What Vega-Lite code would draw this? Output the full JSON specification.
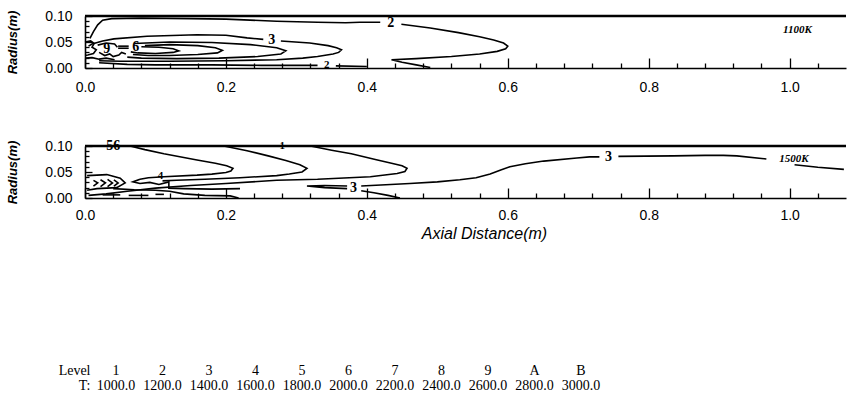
{
  "$schema": "https://vega.github.io/schema/vega-lite/v6.json",
  "padding": {"left": 6, "top": 9, "right": 0, "bottom": 0},
  "background": "white",
  "spacing": 40,
  "config": {"view": {"stroke": null}, "font": "Liberation Sans"},
  "datasets": {
    "top": [
      {"k":"w","c":"w","i":0,"x":0,"y":0.1},{"k":"w","c":"w","i":1,"x":1.08,"y":0.1},
      {"k":"c","c":"t2a","i":0,"x":0.007,"y":0.057},{"k":"c","c":"t2a","i":1,"x":0.012,"y":0.07},{"k":"c","c":"t2a","i":2,"x":0.018,"y":0.083},{"k":"c","c":"t2a","i":3,"x":0.025,"y":0.092},{"k":"c","c":"t2a","i":4,"x":0.038,"y":0.095},{"k":"c","c":"t2a","i":5,"x":0.08,"y":0.096},{"k":"c","c":"t2a","i":6,"x":0.15,"y":0.095},{"k":"c","c":"t2a","i":7,"x":0.2,"y":0.094},{"k":"c","c":"t2a","i":8,"x":0.272,"y":0.09},{"k":"c","c":"t2a","i":9,"x":0.33,"y":0.088},{"k":"c","c":"t2a","i":10,"x":0.37,"y":0.087},{"k":"c","c":"t2a","i":11,"x":0.39,"y":0.088},{"k":"c","c":"t2a","i":12,"x":0.419,"y":0.088},
      {"k":"c","c":"t2b","i":0,"x":0.449,"y":0.084},{"k":"c","c":"t2b","i":1,"x":0.49,"y":0.077},{"k":"c","c":"t2b","i":2,"x":0.53,"y":0.068},{"k":"c","c":"t2b","i":3,"x":0.56,"y":0.06},{"k":"c","c":"t2b","i":4,"x":0.58,"y":0.054},{"k":"c","c":"t2b","i":5,"x":0.594,"y":0.048},{"k":"c","c":"t2b","i":6,"x":0.6,"y":0.042},{"k":"c","c":"t2b","i":7,"x":0.597,"y":0.037},{"k":"c","c":"t2b","i":8,"x":0.585,"y":0.032},{"k":"c","c":"t2b","i":9,"x":0.56,"y":0.027},{"k":"c","c":"t2b","i":10,"x":0.52,"y":0.022},{"k":"c","c":"t2b","i":11,"x":0.47,"y":0.018},{"k":"c","c":"t2b","i":12,"x":0.435,"y":0.016},{"k":"c","c":"t2b","i":13,"x":0.45,"y":0.011},{"k":"c","c":"t2b","i":14,"x":0.47,"y":0.006},{"k":"c","c":"t2b","i":15,"x":0.49,"y":0.001},
      {"k":"c","c":"t3a","i":0,"x":0.005,"y":0.042},{"k":"c","c":"t3a","i":1,"x":0.01,"y":0.046},{"k":"c","c":"t3a","i":2,"x":0.025,"y":0.052},{"k":"c","c":"t3a","i":3,"x":0.041,"y":0.056},{"k":"c","c":"t3a","i":4,"x":0.088,"y":0.061},{"k":"c","c":"t3a","i":5,"x":0.159,"y":0.064},{"k":"c","c":"t3a","i":6,"x":0.2,"y":0.063},{"k":"c","c":"t3a","i":7,"x":0.23,"y":0.058},{"k":"c","c":"t3a","i":8,"x":0.253,"y":0.055},
      {"k":"c","c":"t3b","i":0,"x":0.278,"y":0.052},{"k":"c","c":"t3b","i":1,"x":0.319,"y":0.048},{"k":"c","c":"t3b","i":2,"x":0.345,"y":0.043},{"k":"c","c":"t3b","i":3,"x":0.357,"y":0.039},{"k":"c","c":"t3b","i":4,"x":0.364,"y":0.035},{"k":"c","c":"t3b","i":5,"x":0.36,"y":0.03},{"k":"c","c":"t3b","i":6,"x":0.352,"y":0.027},{"k":"c","c":"t3b","i":7,"x":0.33,"y":0.022},{"k":"c","c":"t3b","i":8,"x":0.309,"y":0.019},{"k":"c","c":"t3b","i":9,"x":0.272,"y":0.016},{"k":"c","c":"t3b","i":10,"x":0.2,"y":0.014},{"k":"c","c":"t3b","i":11,"x":0.12,"y":0.013},{"k":"c","c":"t3b","i":12,"x":0.05,"y":0.013},{"k":"c","c":"t3b","i":13,"x":0.02,"y":0.014},
      {"k":"c","c":"t4","i":0,"x":0.07,"y":0.047},{"k":"c","c":"t4","i":1,"x":0.12,"y":0.05},{"k":"c","c":"t4","i":2,"x":0.18,"y":0.049},{"k":"c","c":"t4","i":3,"x":0.235,"y":0.045},{"k":"c","c":"t4","i":4,"x":0.272,"y":0.039},{"k":"c","c":"t4","i":5,"x":0.285,"y":0.033},{"k":"c","c":"t4","i":6,"x":0.278,"y":0.027},{"k":"c","c":"t4","i":7,"x":0.245,"y":0.022},{"k":"c","c":"t4","i":8,"x":0.19,"y":0.019},{"k":"c","c":"t4","i":9,"x":0.13,"y":0.018},{"k":"c","c":"t4","i":10,"x":0.08,"y":0.019},{"k":"c","c":"t4","i":11,"x":0.06,"y":0.021},
      {"k":"c","c":"t5","i":0,"x":0.085,"y":0.043},{"k":"c","c":"t5","i":1,"x":0.12,"y":0.045},{"k":"c","c":"t5","i":2,"x":0.16,"y":0.043},{"k":"c","c":"t5","i":3,"x":0.185,"y":0.039},{"k":"c","c":"t5","i":4,"x":0.195,"y":0.034},{"k":"c","c":"t5","i":5,"x":0.188,"y":0.029},{"k":"c","c":"t5","i":6,"x":0.16,"y":0.026},{"k":"c","c":"t5","i":7,"x":0.12,"y":0.024},{"k":"c","c":"t5","i":8,"x":0.09,"y":0.024},{"k":"c","c":"t5","i":9,"x":0.068,"y":0.026},
      {"k":"c","c":"t6","i":0,"x":0.08,"y":0.041},{"k":"c","c":"t6","i":1,"x":0.105,"y":0.04},{"k":"c","c":"t6","i":2,"x":0.125,"y":0.037},{"k":"c","c":"t6","i":3,"x":0.133,"y":0.033},{"k":"c","c":"t6","i":4,"x":0.125,"y":0.03},{"k":"c","c":"t6","i":5,"x":0.1,"y":0.028},{"k":"c","c":"t6","i":6,"x":0.075,"y":0.029},{"k":"c","c":"t6","i":7,"x":0.065,"y":0.031},
      {"k":"c","c":"t7a","i":0,"x":0.047,"y":0.042},{"k":"c","c":"t7a","i":1,"x":0.062,"y":0.042},
      {"k":"c","c":"t7b","i":0,"x":0.047,"y":0.038},{"k":"c","c":"t7b","i":1,"x":0.062,"y":0.038},
      {"k":"c","c":"tw1","i":0,"x":0.0,"y":0.05},{"k":"c","c":"tw1","i":1,"x":0.008,"y":0.052},{"k":"c","c":"tw1","i":2,"x":0.013,"y":0.047},{"k":"c","c":"tw1","i":3,"x":0.01,"y":0.04},{"k":"c","c":"tw1","i":4,"x":0.016,"y":0.035},{"k":"c","c":"tw1","i":5,"x":0.012,"y":0.028},{"k":"c","c":"tw1","i":6,"x":0.004,"y":0.025},{"k":"c","c":"tw1","i":7,"x":0.0,"y":0.024},
      {"k":"c","c":"tw2","i":0,"x":0.018,"y":0.044},{"k":"c","c":"tw2","i":1,"x":0.03,"y":0.048},{"k":"c","c":"tw2","i":2,"x":0.042,"y":0.046},{"k":"c","c":"tw2","i":3,"x":0.046,"y":0.04},
      {"k":"c","c":"tw3","i":0,"x":0.02,"y":0.03},{"k":"c","c":"tw3","i":1,"x":0.028,"y":0.024},{"k":"c","c":"tw3","i":2,"x":0.035,"y":0.027},{"k":"c","c":"tw3","i":3,"x":0.04,"y":0.022},{"k":"c","c":"tw3","i":4,"x":0.048,"y":0.025},{"k":"c","c":"tw3","i":5,"x":0.052,"y":0.03},{"k":"c","c":"tw3","i":6,"x":0.058,"y":0.027},
      {"k":"c","c":"tw4","i":0,"x":0.0,"y":0.019},{"k":"c","c":"tw4","i":1,"x":0.01,"y":0.02},{"k":"c","c":"tw4","i":2,"x":0.02,"y":0.017},{"k":"c","c":"tw4","i":3,"x":0.03,"y":0.019},{"k":"c","c":"tw4","i":4,"x":0.042,"y":0.016},
      {"k":"c","c":"tb1","i":0,"x":0.02,"y":0.01},{"k":"c","c":"tb1","i":1,"x":0.06,"y":0.007},{"k":"c","c":"tb1","i":2,"x":0.1,"y":0.006},{"k":"c","c":"tb1","i":3,"x":0.18,"y":0.006},{"k":"c","c":"tb1","i":4,"x":0.25,"y":0.005},{"k":"c","c":"tb1","i":5,"x":0.33,"y":0.005},
      {"k":"c","c":"tb2","i":0,"x":0.356,"y":0.004},{"k":"c","c":"tb2","i":1,"x":0.4,"y":0.003},
      {"k":"lab","x":0.434,"y":0.086,"t":"2"},{"k":"lab","x":0.265,"y":0.054,"t":"3"},{"k":"lab","x":0.072,"y":0.04,"t":"6"},{"k":"lab","x":0.031,"y":0.037,"t":"9"},{"k":"labs","x":0.343,"y":0.005,"t":"2"},
      {"k":"temp","x":1.011,"y":0.074,"t":"1100K"}
    ],
    "bot": [
      {"k":"w","c":"w","i":0,"x":0,"y":0.1},{"k":"w","c":"w","i":1,"x":1.08,"y":0.1},
      {"k":"c","c":"bC1","i":0,"x":0.064,"y":0.1},{"k":"c","c":"bC1","i":1,"x":0.085,"y":0.093},{"k":"c","c":"bC1","i":2,"x":0.112,"y":0.085},{"k":"c","c":"bC1","i":3,"x":0.159,"y":0.073},{"k":"c","c":"bC1","i":4,"x":0.185,"y":0.067},{"k":"c","c":"bC1","i":5,"x":0.201,"y":0.062},{"k":"c","c":"bC1","i":6,"x":0.21,"y":0.057},{"k":"c","c":"bC1","i":7,"x":0.207,"y":0.052},{"k":"c","c":"bC1","i":8,"x":0.2,"y":0.049},{"k":"c","c":"bC1","i":9,"x":0.18,"y":0.046},{"k":"c","c":"bC1","i":10,"x":0.159,"y":0.044},{"k":"c","c":"bC1","i":11,"x":0.112,"y":0.041},{"k":"c","c":"bC1","i":12,"x":0.09,"y":0.039},{"k":"c","c":"bC1","i":13,"x":0.078,"y":0.036},
      {"k":"c","c":"bC2","i":0,"x":0.197,"y":0.1},{"k":"c","c":"bC2","i":1,"x":0.23,"y":0.091},{"k":"c","c":"bC2","i":2,"x":0.26,"y":0.081},{"k":"c","c":"bC2","i":3,"x":0.285,"y":0.072},{"k":"c","c":"bC2","i":4,"x":0.305,"y":0.064},{"k":"c","c":"bC2","i":5,"x":0.315,"y":0.057},{"k":"c","c":"bC2","i":6,"x":0.308,"y":0.05},{"k":"c","c":"bC2","i":7,"x":0.29,"y":0.046},{"k":"c","c":"bC2","i":8,"x":0.272,"y":0.043},{"k":"c","c":"bC2","i":9,"x":0.22,"y":0.039},{"k":"c","c":"bC2","i":10,"x":0.17,"y":0.036},{"k":"c","c":"bC2","i":11,"x":0.13,"y":0.034},{"k":"c","c":"bC2","i":12,"x":0.11,"y":0.033},
      {"k":"c","c":"bC3","i":0,"x":0.32,"y":0.1},{"k":"c","c":"bC3","i":1,"x":0.35,"y":0.092},{"k":"c","c":"bC3","i":2,"x":0.378,"y":0.085},{"k":"c","c":"bC3","i":3,"x":0.412,"y":0.074},{"k":"c","c":"bC3","i":4,"x":0.435,"y":0.067},{"k":"c","c":"bC3","i":5,"x":0.45,"y":0.062},{"k":"c","c":"bC3","i":6,"x":0.457,"y":0.057},{"k":"c","c":"bC3","i":7,"x":0.454,"y":0.051},{"k":"c","c":"bC3","i":8,"x":0.443,"y":0.047},{"k":"c","c":"bC3","i":9,"x":0.405,"y":0.041},{"k":"c","c":"bC3","i":10,"x":0.33,"y":0.036},{"k":"c","c":"bC3","i":11,"x":0.272,"y":0.034},{"k":"c","c":"bC3","i":12,"x":0.2,"y":0.028},{"k":"c","c":"bC3","i":13,"x":0.15,"y":0.024},{"k":"c","c":"bC3","i":14,"x":0.1,"y":0.019},{"k":"c","c":"bC3","i":15,"x":0.06,"y":0.013},{"k":"c","c":"bC3","i":16,"x":0.03,"y":0.008},{"k":"c","c":"bC3","i":17,"x":0.005,"y":0.005},
      {"k":"c","c":"b3a","i":0,"x":0.447,"y":0.0},{"k":"c","c":"b3a","i":1,"x":0.43,"y":0.005},{"k":"c","c":"b3a","i":2,"x":0.41,"y":0.01},{"k":"c","c":"b3a","i":3,"x":0.392,"y":0.014},
      {"k":"c","c":"b3t","i":0,"x":0.372,"y":0.018},{"k":"c","c":"b3t","i":1,"x":0.34,"y":0.02},{"k":"c","c":"b3t","i":2,"x":0.315,"y":0.023},{"k":"c","c":"b3t","i":3,"x":0.34,"y":0.024},{"k":"c","c":"b3t","i":4,"x":0.372,"y":0.023},
      {"k":"c","c":"b3b","i":0,"x":0.392,"y":0.023},{"k":"c","c":"b3b","i":1,"x":0.42,"y":0.025},{"k":"c","c":"b3b","i":2,"x":0.461,"y":0.028},{"k":"c","c":"b3b","i":3,"x":0.5,"y":0.031},{"k":"c","c":"b3b","i":4,"x":0.532,"y":0.035},{"k":"c","c":"b3b","i":5,"x":0.555,"y":0.039},{"k":"c","c":"b3b","i":6,"x":0.575,"y":0.046},{"k":"c","c":"b3b","i":7,"x":0.59,"y":0.054},{"k":"c","c":"b3b","i":8,"x":0.603,"y":0.06},{"k":"c","c":"b3b","i":9,"x":0.625,"y":0.066},{"k":"c","c":"b3b","i":10,"x":0.651,"y":0.071},{"k":"c","c":"b3b","i":11,"x":0.698,"y":0.077},{"k":"c","c":"b3b","i":12,"x":0.716,"y":0.079},{"k":"c","c":"b3b","i":13,"x":0.73,"y":0.079},
      {"k":"c","c":"b3c","i":0,"x":0.757,"y":0.08},{"k":"c","c":"b3c","i":1,"x":0.835,"y":0.081},{"k":"c","c":"b3c","i":2,"x":0.88,"y":0.082},{"k":"c","c":"b3c","i":3,"x":0.906,"y":0.082},{"k":"c","c":"b3c","i":4,"x":0.925,"y":0.081},{"k":"c","c":"b3c","i":5,"x":0.967,"y":0.075},
      {"k":"c","c":"b3d","i":0,"x":1.007,"y":0.064},{"k":"c","c":"b3d","i":1,"x":1.04,"y":0.059},{"k":"c","c":"b3d","i":2,"x":1.077,"y":0.055},
      {"k":"c","c":"bB","i":0,"x":0.003,"y":0.043},{"k":"c","c":"bB","i":1,"x":0.031,"y":0.045},{"k":"c","c":"bB","i":2,"x":0.05,"y":0.038},{"k":"c","c":"bB","i":3,"x":0.057,"y":0.029},{"k":"c","c":"bB","i":4,"x":0.045,"y":0.02},{"k":"c","c":"bB","i":5,"x":0.017,"y":0.018},{"k":"c","c":"bB","i":6,"x":0.003,"y":0.015},
      {"k":"c","c":"ba1","i":0,"x":0.012,"y":0.034},{"k":"c","c":"ba1","i":1,"x":0.018,"y":0.029},{"k":"c","c":"ba1","i":2,"x":0.012,"y":0.023},
      {"k":"c","c":"ba2","i":0,"x":0.022,"y":0.035},{"k":"c","c":"ba2","i":1,"x":0.029,"y":0.029},{"k":"c","c":"ba2","i":2,"x":0.022,"y":0.022},
      {"k":"c","c":"ba3","i":0,"x":0.032,"y":0.036},{"k":"c","c":"ba3","i":1,"x":0.039,"y":0.029},{"k":"c","c":"ba3","i":2,"x":0.032,"y":0.022},
      {"k":"c","c":"ba4","i":0,"x":0.041,"y":0.035},{"k":"c","c":"ba4","i":1,"x":0.047,"y":0.029},{"k":"c","c":"ba4","i":2,"x":0.041,"y":0.023},
      {"k":"c","c":"bW","i":0,"x":0.078,"y":0.036},{"k":"c","c":"bW","i":1,"x":0.068,"y":0.031},{"k":"c","c":"bW","i":2,"x":0.078,"y":0.028},{"k":"c","c":"bW","i":3,"x":0.092,"y":0.03},{"k":"c","c":"bW","i":4,"x":0.105,"y":0.026},{"k":"c","c":"bW","i":5,"x":0.119,"y":0.031},{"k":"c","c":"bW","i":6,"x":0.119,"y":0.019},{"k":"c","c":"bW","i":7,"x":0.14,"y":0.018},{"k":"c","c":"bW","i":8,"x":0.18,"y":0.017},{"k":"c","c":"bW","i":9,"x":0.22,"y":0.018},
      {"k":"c","c":"bBot","i":0,"x":0.04,"y":0.018},{"k":"c","c":"bBot","i":1,"x":0.07,"y":0.016},{"k":"c","c":"bBot","i":2,"x":0.1,"y":0.015},{"k":"c","c":"bBot","i":3,"x":0.12,"y":0.013},{"k":"c","c":"bBot","i":4,"x":0.14,"y":0.008},{"k":"c","c":"bBot","i":5,"x":0.17,"y":0.005},{"k":"c","c":"bBot","i":6,"x":0.206,"y":0.004},{"k":"c","c":"bBot","i":7,"x":0.218,"y":0.0},
      {"k":"c","c":"bd1","i":0,"x":0.025,"y":0.006},{"k":"c","c":"bd1","i":1,"x":0.05,"y":0.006},
      {"k":"c","c":"bd2","i":0,"x":0.062,"y":0.005},{"k":"c","c":"bd2","i":1,"x":0.09,"y":0.005},
      {"k":"c","c":"bd3","i":0,"x":0.1,"y":0.007},{"k":"c","c":"bd3","i":1,"x":0.112,"y":0.007},
      {"k":"lab","x":0.04,"y":0.1,"t":"56"},{"k":"lab","x":0.381,"y":0.0185,"t":"3"},{"k":"lab","x":0.743,"y":0.079,"t":"3"},{"k":"labs","x":0.107,"y":0.043,"t":"4"},{"k":"labs","x":0.28,"y":0.1,"t":"1"},
      {"k":"temp","x":1.006,"y":0.075,"t":"1500K"}
    ],
    "legend": [
      {"col":0,"r":0,"t":"Level"},{"col":0,"r":1,"t":"T:"},
      {"col":1,"r":0,"t":"1"},{"col":1,"r":1,"t":"1000.0"},
      {"col":2,"r":0,"t":"2"},{"col":2,"r":1,"t":"1200.0"},
      {"col":3,"r":0,"t":"3"},{"col":3,"r":1,"t":"1400.0"},
      {"col":4,"r":0,"t":"4"},{"col":4,"r":1,"t":"1600.0"},
      {"col":5,"r":0,"t":"5"},{"col":5,"r":1,"t":"1800.0"},
      {"col":6,"r":0,"t":"6"},{"col":6,"r":1,"t":"2000.0"},
      {"col":7,"r":0,"t":"7"},{"col":7,"r":1,"t":"2200.0"},
      {"col":8,"r":0,"t":"8"},{"col":8,"r":1,"t":"2400.0"},
      {"col":9,"r":0,"t":"9"},{"col":9,"r":1,"t":"2600.0"},
      {"col":10,"r":0,"t":"A"},{"col":10,"r":1,"t":"2800.0"},
      {"col":11,"r":0,"t":"B"},{"col":11,"r":1,"t":"3000.0"}
    ]
  },
  "vconcat": [
    {
      "width": 761, "height": 52,
      "data": {"name": "top"},
      "encoding": {
        "x": {"field": "x", "type": "quantitative", "scale": {"domain": [0, 1.08], "nice": false, "zero": false},
          "axis": {"title": null, "values": [0,0.04,0.08,0.12,0.16,0.2,0.24,0.28,0.32,0.36,0.4,0.44,0.48,0.52,0.56,0.6,0.64,0.68,0.72,0.76,0.8,0.84,0.88,0.92,0.96,1.0,1.04],
            "labelExpr": "abs(datum.value*5-round(datum.value*5))<0.001 ? format(datum.value,'.1f') : ''",
            "labelFlush": false, "labelOverlap": false, "labelBound": false, "grid": false,
            "domainColor": "black", "domainWidth": 1.6, "tickColor": "black", "tickWidth": 1.3,
            "tickSize": {"condition": {"test": "abs(datum.value*5-round(datum.value*5))<0.001", "value": -10}, "value": -5},
            "labelPadding": 22, "labelFont": "Liberation Sans", "labelFontSize": 14, "labelColor": "black"}},
        "y": {"field": "y", "type": "quantitative", "scale": {"domain": [0, 0.1], "nice": false, "zero": false},
          "axis": {"title": "Radius(m)", "values": [0,0.01,0.02,0.03,0.04,0.05,0.06,0.07,0.08,0.09,0.1],
            "labelExpr": "abs(datum.value*20-round(datum.value*20))<0.001 ? format(datum.value,'.2f') : ''",
            "labelFlush": false, "labelOverlap": false, "labelBound": false, "grid": false,
            "domainColor": "black", "domainWidth": 1.6, "tickColor": "black", "tickWidth": 1.3,
            "tickSize": {"condition": {"test": "abs(datum.value*20-round(datum.value*20))<0.001", "value": -7}, "value": -4},
            "labelPadding": 20, "labelFont": "Liberation Sans", "labelFontSize": 14, "labelColor": "black",
            "titleFont": "Liberation Sans", "titleFontStyle": "italic", "titleFontWeight": "bold", "titleFontSize": 13, "titleColor": "black", "titlePadding": 25}}
      },
      "layer": [
        {"transform": [{"filter": "datum.k=='w'"}], "mark": {"type": "line", "color": "black", "strokeWidth": 2.6}, "encoding": {"detail": {"field": "c"}, "order": {"field": "i"}}},
        {"transform": [{"filter": "datum.k=='c'"}], "mark": {"type": "line", "color": "black", "strokeWidth": 1.6}, "encoding": {"detail": {"field": "c"}, "order": {"field": "i"}}},
        {"transform": [{"filter": "datum.k=='lab'"}], "mark": {"type": "text", "font": "Liberation Serif", "fontSize": 14, "fontWeight": "bold", "color": "black"}, "encoding": {"text": {"field": "t"}}},
        {"transform": [{"filter": "datum.k=='labs'"}], "mark": {"type": "text", "font": "Liberation Serif", "fontSize": 11, "fontWeight": "bold", "color": "black"}, "encoding": {"text": {"field": "t"}}},
        {"transform": [{"filter": "datum.k=='temp'"}], "mark": {"type": "text", "font": "Liberation Serif", "fontSize": 11, "fontWeight": "bold", "fontStyle": "italic", "color": "black"}, "encoding": {"text": {"field": "t"}}}
      ]
    },
    {
      "width": 761, "height": 52,
      "data": {"name": "bot"},
      "encoding": {
        "x": {"field": "x", "type": "quantitative", "scale": {"domain": [0, 1.08], "nice": false, "zero": false},
          "axis": {"title": "Axial Distance(m)", "values": [0,0.04,0.08,0.12,0.16,0.2,0.24,0.28,0.32,0.36,0.4,0.44,0.48,0.52,0.56,0.6,0.64,0.68,0.72,0.76,0.8,0.84,0.88,0.92,0.96,1.0,1.04],
            "labelExpr": "abs(datum.value*5-round(datum.value*5))<0.001 ? format(datum.value,'.1f') : ''",
            "labelFlush": false, "labelOverlap": false, "labelBound": false, "grid": false,
            "domainColor": "black", "domainWidth": 1.6, "tickColor": "black", "tickWidth": 1.3,
            "tickSize": {"condition": {"test": "abs(datum.value*5-round(datum.value*5))<0.001", "value": -10}, "value": -5},
            "labelPadding": 20, "labelFont": "Liberation Sans", "labelFontSize": 14, "labelColor": "black",
            "titleFont": "Liberation Sans", "titleFontStyle": "italic", "titleFontWeight": "normal", "titleFontSize": 16, "titleColor": "black", "titlePadding": -2, "titleX": 399}},
        "y": {"field": "y", "type": "quantitative", "scale": {"domain": [0, 0.1], "nice": false, "zero": false},
          "axis": {"title": "Radius(m)", "values": [0,0.01,0.02,0.03,0.04,0.05,0.06,0.07,0.08,0.09,0.1],
            "labelExpr": "abs(datum.value*20-round(datum.value*20))<0.001 ? format(datum.value,'.2f') : ''",
            "labelFlush": false, "labelOverlap": false, "labelBound": false, "grid": false,
            "domainColor": "black", "domainWidth": 1.6, "tickColor": "black", "tickWidth": 1.3,
            "tickSize": {"condition": {"test": "abs(datum.value*20-round(datum.value*20))<0.001", "value": -7}, "value": -4},
            "labelPadding": 20, "labelFont": "Liberation Sans", "labelFontSize": 14, "labelColor": "black",
            "titleFont": "Liberation Sans", "titleFontStyle": "italic", "titleFontWeight": "bold", "titleFontSize": 13, "titleColor": "black", "titlePadding": 25}}
      },
      "layer": [
        {"transform": [{"filter": "datum.k=='w'"}], "mark": {"type": "line", "color": "black", "strokeWidth": 2.6}, "encoding": {"detail": {"field": "c"}, "order": {"field": "i"}}},
        {"transform": [{"filter": "datum.k=='c'"}], "mark": {"type": "line", "color": "black", "strokeWidth": 1.6}, "encoding": {"detail": {"field": "c"}, "order": {"field": "i"}}},
        {"transform": [{"filter": "datum.k=='lab'"}], "mark": {"type": "text", "font": "Liberation Serif", "fontSize": 14, "fontWeight": "bold", "color": "black"}, "encoding": {"text": {"field": "t"}}},
        {"transform": [{"filter": "datum.k=='labs'"}], "mark": {"type": "text", "font": "Liberation Serif", "fontSize": 11, "fontWeight": "bold", "color": "black"}, "encoding": {"text": {"field": "t"}}},
        {"transform": [{"filter": "datum.k=='temp'"}], "mark": {"type": "text", "font": "Liberation Serif", "fontSize": 11, "fontWeight": "bold", "fontStyle": "italic", "color": "black"}, "encoding": {"text": {"field": "t"}}}
      ]
    },
    {
      "width": 761, "height": 105,
      "data": {"name": "legend"},
      "encoding": {
        "x": {"field": "col", "type": "quantitative", "scale": {"domain": [0.333, 16.698], "nice": false, "zero": false}, "axis": null},
        "y": {"field": "r", "type": "quantitative", "scale": {"domain": [-5.967, 1.033], "nice": false, "zero": false, "reverse": true}, "axis": null},
        "text": {"field": "t"}
      },
      "layer": [
        {"transform": [{"filter": "datum.col>0"}], "mark": {"type": "text", "font": "Liberation Serif", "fontSize": 14, "color": "black"}},
        {"transform": [{"filter": "datum.col==0"}], "mark": {"type": "text", "font": "Liberation Serif", "fontSize": 14, "color": "black", "align": "right", "dx": 21}}
      ]
    }
  ]
}
